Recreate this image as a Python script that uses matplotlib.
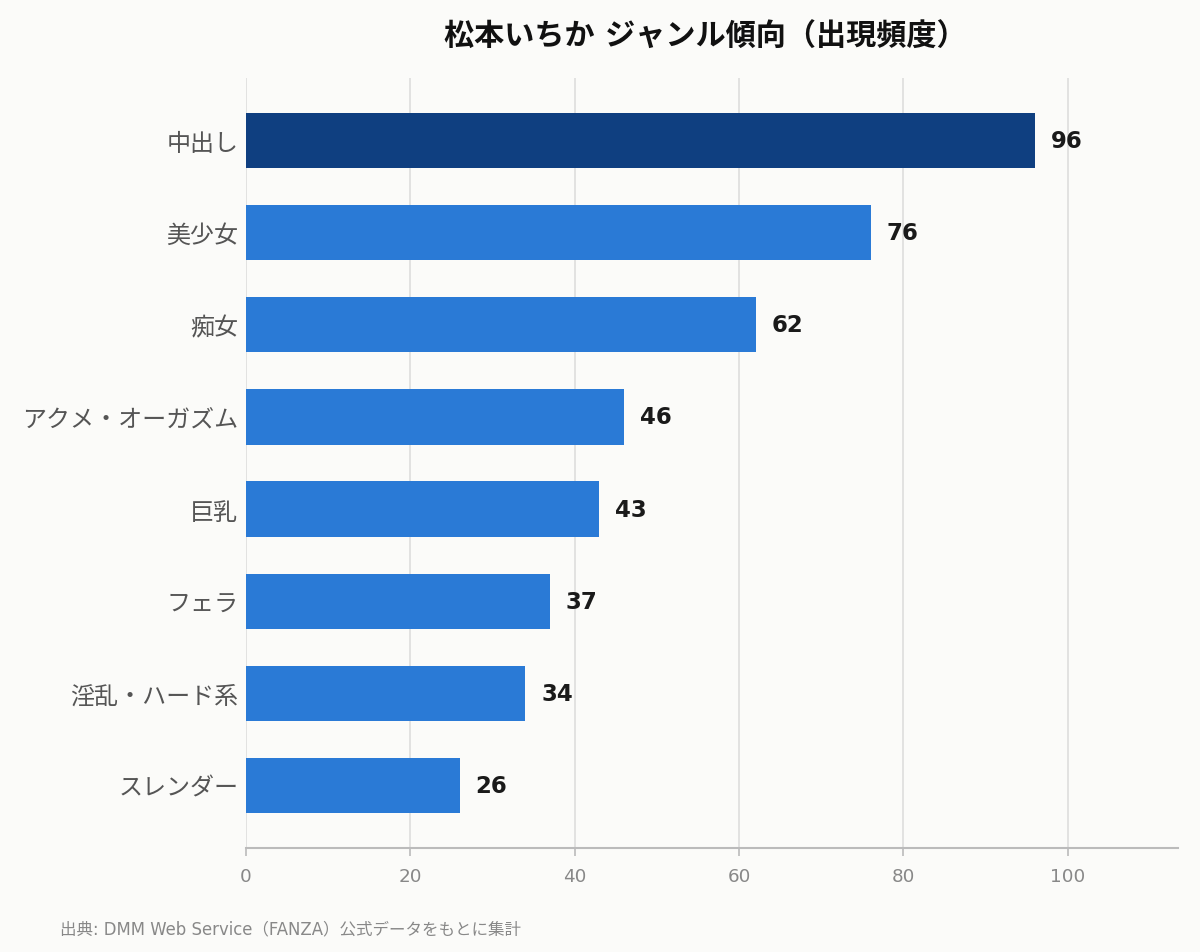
import matplotlib
matplotlib.use("Agg")
import matplotlib.pyplot as plt

plt.rcParams['font.family'] = ['DejaVu Sans', 'Noto Sans CJK JP']

categories = ["中出し", "美少女", "痴女", "アクメ・オーガズム", "巨乳", "フェラ", "淫乱・ハード系", "スレンダー"]
values = [96, 76, 62, 46, 43, 37, 34, 26]
xticks = [0, 20, 40, 60, 80, 100]
title = "松本いちか ジャンル傾向（出現頻度）"
source = "出典: DMM Web Service（FANZA）公式データをもとに集計"

bg = "#fbfbf9"
fig = plt.figure(figsize=(12, 9.53), dpi=100, facecolor=bg)
ax = fig.add_axes([246/1200, 1-849/953, (1178-246)/1200, (849-79)/953])
ax.set_facecolor(bg)

colors = ["#0f3f80"] + ["#2a7ad6"] * (len(values) - 1)
y = list(range(len(categories)))
ax.barh(y, values, height=0.6, color=colors, zorder=3)
for yi, v in zip(y, values):
    ax.text(v + 1.9, yi, str(v), va='center', ha='left', fontsize=16.5,
            fontweight='bold', color='#1a1a1a', zorder=4)

ax.set_xlim(0, 113.4)
ax.set_ylim(7.68, -0.68)
ax.set_yticks(y)
ax.set_yticklabels(categories, fontsize=17.3, color='#555555')
ax.set_xticks(xticks)
ax.set_xticklabels([str(t) for t in xticks], fontsize=13.2, color='#888888')
ax.tick_params(axis='y', length=0, pad=5.5)
ax.tick_params(axis='x', length=6, color='#bbbbbb', width=1.2, pad=8)
ax.grid(axis='x', color='#dddddd', linewidth=1.2, zorder=0)
for s in ['top', 'right', 'left']:
    ax.spines[s].set_visible(False)
ax.spines['bottom'].set_color('#bbbbbb')
ax.spines['bottom'].set_linewidth(1.5)

fig.text(705/1200, 1-37/953, title, ha='center', va='center', fontsize=21.7,
         fontweight='bold', color='#111111')
fig.text(60/1200, 1-929/953, source, ha='left', va='center', fontsize=11.9,
         color='#888888')

fig.savefig("out.png", dpi=100, facecolor=bg)
